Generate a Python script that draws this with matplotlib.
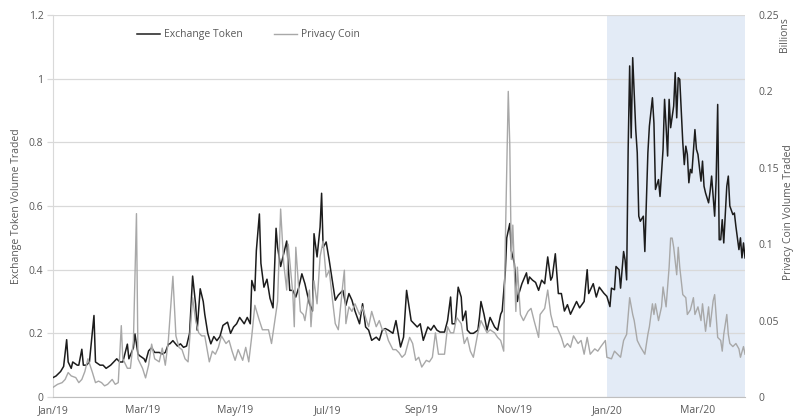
import matplotlib
matplotlib.use("Agg")
import matplotlib.pyplot as plt
import matplotlib.dates as mdates
import pandas as pd

# ---- data (days since 2019-01-01) ----
exch_days = [0, 2, 5, 7, 9, 10, 12, 13, 16, 17, 19, 20, 22, 24, 27, 28, 31, 33, 35, 38, 40, 42, 44, 46, 49, 50,
             53, 54, 56, 57, 60, 61, 63, 65, 67, 70, 72, 74, 76, 77, 79, 82, 84, 86, 88, 90, 92, 94, 95, 97, 99,
             100, 102, 104, 106, 108, 110, 112, 115, 117, 119, 121, 123, 126, 128, 130, 131, 133, 134, 136, 137,
             139, 141, 143, 145, 147, 148, 150, 152, 154, 156, 158, 160, 162, 164, 166, 169, 171, 172, 174, 176,
             177, 178, 180, 182, 184, 186, 188, 191, 193, 195, 197, 199, 202, 204, 206, 208, 210, 213, 215, 217,
             219, 221, 224, 226, 229, 231, 233, 236, 238, 240, 242, 244, 247, 249, 251, 253, 255, 258, 260, 262,
             263, 265, 267, 269, 270, 272, 273, 275, 277, 280, 281, 282, 284, 286, 288, 291, 293, 295, 296, 298,
             299, 301, 302, 304, 306, 307, 309, 312, 313, 314, 316, 318, 320, 322, 324, 326, 328, 329, 331, 333,
             335, 337, 339, 341, 343, 345, 347, 350, 352, 353, 356, 358, 360, 363, 365, 367, 368, 370, 371, 373,
             374, 376, 377, 378, 379, 380, 381, 382, 384, 385, 386, 387, 389, 390, 392, 393, 395, 396, 397, 399,
             400, 402, 403, 404, 405, 406, 407, 409, 410, 411, 412, 413, 415, 416, 417, 418, 419, 420, 421, 423,
             424, 425, 427, 428, 429, 430, 432, 433, 434, 436, 437, 438, 439, 440, 441, 442, 444, 445, 446, 448,
             449, 450, 452, 453, 454, 455, 456]
exch_vals = [0.061, 0.066, 0.08, 0.096, 0.18, 0.11, 0.09, 0.11, 0.10, 0.10, 0.15, 0.10, 0.10, 0.11, 0.256, 0.11,
             0.10, 0.10, 0.09, 0.10, 0.11, 0.12, 0.11, 0.11, 0.166, 0.12, 0.155, 0.198, 0.135, 0.13, 0.12, 0.11,
             0.145, 0.155, 0.14, 0.14, 0.135, 0.14, 0.166, 0.167, 0.177, 0.16, 0.167, 0.156, 0.16, 0.20, 0.38,
             0.29, 0.21, 0.34, 0.30, 0.26, 0.20, 0.167, 0.19, 0.177, 0.19, 0.225, 0.235, 0.20, 0.22, 0.23, 0.25,
             0.23, 0.25, 0.23, 0.366, 0.334, 0.46, 0.575, 0.42, 0.345, 0.37, 0.31, 0.28, 0.53, 0.47, 0.41, 0.45,
             0.49, 0.335, 0.335, 0.314, 0.345, 0.387, 0.356, 0.293, 0.27, 0.513, 0.44, 0.534, 0.64, 0.47, 0.487,
             0.43, 0.367, 0.304, 0.32, 0.335, 0.288, 0.325, 0.304, 0.27, 0.23, 0.293, 0.22, 0.21, 0.178, 0.188,
             0.178, 0.21, 0.215, 0.21, 0.20, 0.24, 0.157, 0.188, 0.335, 0.24, 0.23, 0.22, 0.23, 0.178, 0.22,
             0.21, 0.225, 0.21, 0.204, 0.204, 0.24, 0.314, 0.23, 0.23, 0.345, 0.314, 0.24, 0.27, 0.21, 0.20,
             0.20, 0.21, 0.25, 0.30, 0.26, 0.21, 0.25, 0.22, 0.21, 0.26, 0.27, 0.39, 0.50, 0.545, 0.46, 0.42,
             0.30, 0.325, 0.356, 0.39, 0.356, 0.377, 0.367, 0.36, 0.335, 0.367, 0.356, 0.44, 0.367, 0.377, 0.45,
             0.325, 0.325, 0.27, 0.29, 0.26, 0.28, 0.30, 0.28, 0.30, 0.40, 0.325, 0.356, 0.314, 0.345, 0.326,
             0.316, 0.284, 0.342, 0.337, 0.41, 0.40, 0.342, 0.457, 0.43, 0.368, 0.778, 1.04, 0.814, 1.066, 0.84,
             0.767, 0.568, 0.552, 0.568, 0.457, 0.767, 0.851, 0.94, 0.86, 0.652, 0.683, 0.63, 0.778, 0.935, 0.85,
             0.757, 0.935, 0.846, 0.914, 1.019, 0.877, 1.003, 0.998, 0.80, 0.73, 0.788, 0.762, 0.673, 0.715,
             0.704, 0.84, 0.778, 0.762, 0.678, 0.741, 0.662, 0.641, 0.61, 0.646, 0.694, 0.568, 0.683, 0.919,
             0.494, 0.494, 0.557, 0.484, 0.662, 0.694, 0.60, 0.573, 0.578, 0.536, 0.463, 0.50, 0.437, 0.484, 0.437]

priv_days = [0, 3, 6, 8, 10, 12, 15, 17, 19, 21, 23, 26, 28, 30, 32, 34, 36, 39, 41, 43, 45, 46, 49, 51, 53, 55,
             56, 59, 61, 63, 65, 67, 70, 72, 74, 76, 79, 81, 83, 85, 87, 89, 92, 94, 96, 98, 100, 103, 105, 107,
             109, 111, 114, 116, 118, 120, 122, 125, 127, 129, 131, 133, 136, 138, 140, 142, 144, 147, 148, 150,
             152, 154, 155, 158, 159, 160, 163, 165, 166, 169, 170, 172, 174, 176, 178, 180, 182, 184, 186, 188,
             191, 192, 193, 195, 197, 199, 202, 204, 206, 208, 210, 213, 215, 217, 219, 221, 224, 226, 228, 230,
             232, 235, 237, 239, 241, 243, 246, 248, 250, 252, 254, 258, 260, 262, 264, 266, 269, 271, 273, 275,
             277, 280, 282, 284, 286, 288, 291, 293, 295, 297, 298, 300, 301, 302, 303, 305, 306, 308, 310, 313,
             315, 317, 320, 321, 324, 326, 328, 330, 332, 335, 337, 339, 341, 343, 346, 348, 350, 352, 354, 357,
             359, 361, 364, 365, 368, 370, 372, 374, 376, 378, 380, 382, 383, 385, 387, 390, 392, 393, 395, 396,
             397, 399, 401, 402, 404, 406, 407, 408, 409, 411, 412, 413, 415, 417, 418, 420, 422, 423, 425, 427,
             428, 430, 432, 433, 435, 436, 438, 440, 441, 442, 444, 445, 446, 448, 450, 452, 453, 455, 456]
priv_vals = [0.0063, 0.0083, 0.0094, 0.0115, 0.016, 0.0138, 0.0127, 0.0094, 0.0115, 0.0167, 0.025, 0.016, 0.0094,
             0.0104, 0.0094, 0.0073, 0.0083, 0.0115, 0.0083, 0.0094, 0.0467, 0.025, 0.0188, 0.0188, 0.037, 0.12,
             0.025, 0.0188, 0.0125, 0.0208, 0.0346, 0.025, 0.023, 0.032, 0.0208, 0.037, 0.079, 0.04, 0.0325,
             0.031, 0.025, 0.023, 0.065, 0.05, 0.042, 0.04, 0.04, 0.023, 0.030, 0.028, 0.0325, 0.04, 0.035, 0.037,
             0.030, 0.024, 0.031, 0.024, 0.0325, 0.023, 0.04, 0.06, 0.05, 0.044, 0.044, 0.044, 0.035, 0.056,
             0.0625, 0.123, 0.0875, 0.07, 0.10, 0.068, 0.046, 0.098, 0.056, 0.054, 0.05, 0.07, 0.046, 0.076,
             0.061, 0.092, 0.102, 0.0785, 0.083, 0.065, 0.048, 0.044, 0.074, 0.083, 0.048, 0.059, 0.056, 0.061,
             0.054, 0.059, 0.052, 0.046, 0.056, 0.046, 0.05, 0.044, 0.044, 0.037, 0.031, 0.031, 0.029, 0.026,
             0.028, 0.039, 0.035, 0.024, 0.026, 0.0196, 0.024, 0.023, 0.026, 0.042, 0.028, 0.028, 0.046, 0.042,
             0.042, 0.052, 0.048, 0.035, 0.039, 0.030, 0.026, 0.042, 0.05, 0.046, 0.042, 0.044, 0.042, 0.039,
             0.037, 0.030, 0.098, 0.20, 0.165, 0.09, 0.1125, 0.056, 0.085, 0.054, 0.05, 0.056, 0.058, 0.05, 0.039,
             0.054, 0.058, 0.07, 0.054, 0.046, 0.046, 0.039, 0.0325, 0.035, 0.0325, 0.040, 0.035, 0.037, 0.028,
             0.039, 0.028, 0.0315, 0.030, 0.033, 0.037, 0.026, 0.025, 0.030, 0.028, 0.026, 0.037, 0.041, 0.065,
             0.054, 0.05, 0.037, 0.033, 0.028, 0.041, 0.046, 0.061, 0.054, 0.061, 0.05, 0.059, 0.072, 0.059,
             0.085, 0.104, 0.104, 0.098, 0.08, 0.098, 0.085, 0.067, 0.065, 0.054, 0.057, 0.065, 0.054, 0.059,
             0.05, 0.061, 0.043, 0.059, 0.046, 0.063, 0.067, 0.039, 0.037, 0.03, 0.041, 0.054, 0.041, 0.035,
             0.033, 0.035, 0.0315, 0.026, 0.033, 0.028]

start = pd.Timestamp("2019-01-01")
exch_dates = start + pd.to_timedelta(exch_days, unit="D")
priv_dates = start + pd.to_timedelta(priv_days, unit="D")

left_ticks = [0, 0.2, 0.4, 0.6, 0.8, 1.0, 1.2]
left_labels = ["0", "0.2", "0.4", "0.6", "0.8", "1", "1.2"]
right_ticks = [0, 0.05, 0.1, 0.15, 0.2, 0.25]
right_labels = ["0", "0.05", "0.1", "0.15", "0.2", "0.25"]

plt.rcParams["font.family"] = ["Open Sans", "DejaVu Sans"]
txt = "#595959"
grid_c = "#d9d9d9"

fig = plt.figure(figsize=(7.93, 4.20), dpi=100)
ax = fig.add_axes([53 / 793, 1 - 397 / 420, 692 / 793, 382 / 420])
ax2 = ax.twinx()

ax.axvspan(pd.Timestamp("2020-01-01"), pd.Timestamp("2020-04-01"), color="#e3ebf6", zorder=0.1, lw=0)
ax.set_axisbelow(True)
ax.grid(axis="y", color=grid_c, lw=0.9, zorder=0.5)

l1, = ax.plot(exch_dates, exch_vals, color="#1c1c1c", lw=1.1, zorder=3, label="Exchange Token")
l2, = ax2.plot(priv_dates, priv_vals, color="#a8a8a8", lw=1.0, label="Privacy Coin")

ax.set_xlim(start, pd.Timestamp("2020-04-01"))
ax.set_ylim(0, 1.2)
ax2.set_ylim(0, 0.25)
ax.set_yticks(left_ticks)
ax.set_yticklabels(left_labels)
ax2.set_yticks(right_ticks)
ax2.set_yticklabels(right_labels)

ax.xaxis.set_major_locator(mdates.MonthLocator(bymonth=[1, 3, 5, 7, 9, 11]))
ax.xaxis.set_major_formatter(mdates.DateFormatter("%b/%y"))

for a in (ax, ax2):
    for s in a.spines.values():
        s.set_visible(False)
ax.spines["left"].set_visible(True)
ax.spines["left"].set_color(grid_c)
ax.spines["bottom"].set_visible(True)
ax.spines["bottom"].set_color("#bfbfbf")

ax.tick_params(axis="y", colors=grid_c, labelcolor=txt, labelsize=7.5, length=4, width=0.9, pad=3)
ax.tick_params(axis="x", length=0, labelcolor=txt, labelsize=7.5, pad=6)
ax2.tick_params(axis="y", length=0, labelcolor=txt, labelsize=7.5, pad=10)

ax.set_ylabel("Exchange Token Volume Traded", color=txt, fontsize=7.5, labelpad=5)
fig.text(788 / 793, 1 - 212 / 420, "Privacy Coin Volume Traded", rotation=90, color=txt,
         fontsize=7.5, ha="center", va="center")
fig.text(785 / 793, 1 - 35 / 420, "Billions", rotation=90, color=txt, fontsize=7.5,
         ha="center", va="center")

ax.legend(handles=[l1, l2], loc="center", bbox_to_anchor=(0.282, 0.948), ncol=2, frameon=False,
          fontsize=7.5, labelcolor=txt, handlelength=2.2, handletextpad=0.4, columnspacing=3.0)

fig.savefig("out.png", dpi=100)
